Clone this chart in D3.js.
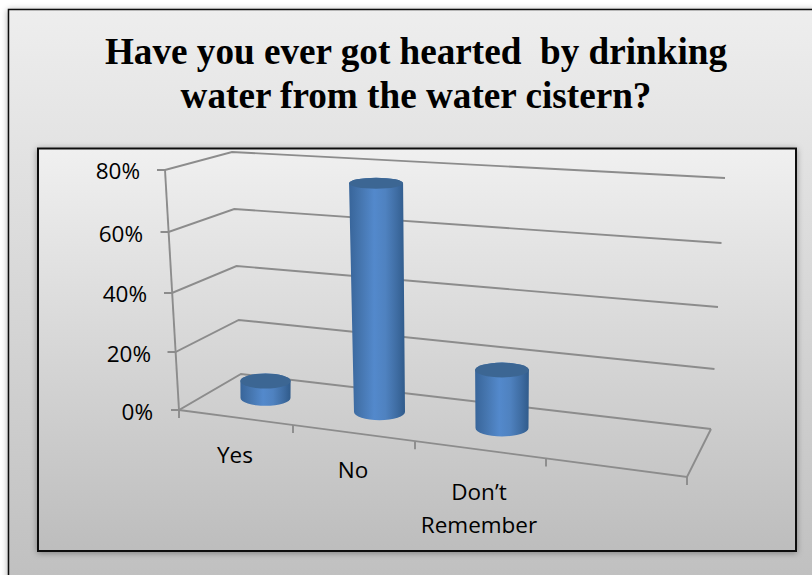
<!DOCTYPE html>
<html><head><meta charset="utf-8">
<script src="https://cdn.jsdelivr.net/npm/d3@7/dist/d3.min.js"></script>
<style>html,body{margin:0;padding:0;background:#fff;overflow:hidden}svg{display:block}</style>
</head><body><svg id="c" width="812" height="575"></svg>
<script>
const categories = ["Yes","No","Don’t\nRemember"];
const values = [5,75,20];
const yTicks = [0,20,40,60,80];
const titleLines = ["Have you ever got hearted  by drinking","water from the water cistern?"];

const W=812,H=575;
const svg=d3.select("#c");
const defs=svg.append("defs");
function vgrad(id,stops,h){const g=defs.append("linearGradient").attr("id",id).attr("x1",0).attr("x2",h?1:0).attr("y1",0).attr("y2",h?0:1);
 stops.forEach(s=>g.append("stop").attr("offset",s[0]).attr("stop-color",s[1]));}
vgrad("outer",[[0,"#eeeeee"],[1,"#bdbdbd"]]);
vgrad("inner",[[0,"#f0f0f0"],[1,"#bdbdbd"]]);
vgrad("body",[[0,"#38659a"],[.2,"#4575ae"],[.45,"#5389cc"],[.65,"#4f82c0"],[.85,"#3f6da3"],[1,"#305b8b"]],true);
const sh=defs.append("filter").attr("id","sh").attr("x","-5%").attr("y","-5%").attr("width","110%").attr("height","110%");
sh.append("feDropShadow").attr("dx",0).attr("dy",1).attr("stdDeviation",3).attr("flood-color","#000").attr("flood-opacity",.35);

// frames
svg.append("rect").attr("x",8.5).attr("y",9.5).attr("width",W+40).attr("height",H-9.5+40).attr("fill","url(#outer)").attr("stroke","#111").attr("stroke-width",1.5).attr("filter","url(#sh)");
svg.append("rect").attr("x",38).attr("y",148.5).attr("width",758).attr("height",402.5).attr("fill","url(#inner)").attr("stroke","#111").attr("stroke-width",2).attr("filter","url(#sh)");

// title
svg.append("g").selectAll("text").data(titleLines).join("text")
 .attr("x",416).attr("y",(d,i)=>64+i*43.5).attr("text-anchor","middle")
 .style("font","bold 37.2px 'Liberation Serif'").style("white-space","pre").attr("fill","#000").text(d=>d);

// perspective scales: each gridline runs front-left -> back-left -> back-right
const frontY=d3.scaleLinear().domain([0,20,40,60,80]).range([410,352,293,232,170]);
const frontX=d3.scaleLinear().domain([0,80]).range([179,165]);
const backLX=d3.scaleLinear().domain([0,80]).range([241,232]);
const backLY=d3.scaleLinear().domain([0,20,40,60,80]).range([374,320,266,209,152]);
const backRX=d3.scaleLinear().domain([0,80]).range([711,725]);
const backRY=d3.scaleLinear().domain([0,20,40,60,80]).range([429,369,307,243,178]);
const grey="#8c8c8c";
const line=d3.line();
const axis=svg.append("g").attr("fill","none").attr("stroke",grey).attr("stroke-width",1.9);
yTicks.forEach(v=>{
 axis.append("path").attr("d",line([[frontX(v)-8,frontY(v)],[frontX(v),frontY(v)],[backLX(v),backLY(v)],[backRX(v),backRY(v)]]));
});
axis.append("path").attr("d",line([[frontX(80),frontY(80)],[frontX(0),frontY(0)]]));
// floor front edge + right edge
const edgeX=d3.scaleLinear().domain([0,1,2,3,4]).range([179,293,415,546,687]);
const edgeY=d3.scaleLinear().domain([179,687]).range([410,477]);
axis.append("path").attr("d",line([[frontX(0),frontY(0)],[edgeX(4),edgeY(edgeX(4))],[backRX(0),backRY(0)]]));
d3.range(0,5).forEach(i=>{
 const x=edgeX(i),y=edgeY(x);
 axis.append("path").attr("d",line([[x,y],[x,y+8]]));
});

// y labels
const tickLabelX=d3.scaleLinear().domain([0,20,40,60,80]).range([153,151,147,143,140]);
const tickLabelY=d3.scaleLinear().domain([0,20,40,60,80]).range([420,362,302,242,179]);
svg.append("g").selectAll("text").data(yTicks).join("text")
 .attr("x",tickLabelX).attr("y",tickLabelY).attr("text-anchor","end")
 .style("font","22.5px 'Open Sans',sans-serif").attr("fill","#000").text(v=>v+"%");

// cylinders
const idx=categories.map((_,i)=>i);
const cx=d3.scaleLinear().domain(idx).range([265.5,379.5,502]);
const baseY=d3.scaleLinear().domain(idx).range([398,412,428]);
const pxPer=d3.scaleLinear().domain(idx).range([3.4,3.05,2.9]);
const radius=d3.scaleLinear().domain(idx).range([25,25.5,26.5]);
const lean=d3.scaleLinear().domain(idx).range([0,.015,0]);
const flare=0.0066;
const ryAt=d3.scaleLinear().domain([183,380,430]).range([5.5,7.5,8.5]);
const bars=svg.append("g").selectAll("g").data(values).join("g");
bars.append("path").attr("fill","url(#body)").attr("d",(v,i)=>{
 const h=v*pxPer(i),r=radius(i),x0=cx(i),y0=baseY(i),x1=x0-h*lean(i),y1=y0-h,rt=r+h*flare,rb=ryAt(y0),rtop=ryAt(y1);
 return `M${x1-rt},${y1}L${x0-r},${y0}A${r},${rb} 0 0 0 ${x0+r},${y0}L${x1+rt},${y1}A${rt},${rtop} 0 0 0 ${x1-rt},${y1}Z`;
});
bars.append("ellipse").attr("fill","#3c6693")
 .attr("cx",(v,i)=>cx(i)-v*pxPer(i)*lean(i)).attr("cy",(v,i)=>baseY(i)-v*pxPer(i))
 .attr("rx",(v,i)=>radius(i)+v*pxPer(i)*flare).attr("ry",(v,i)=>ryAt(baseY(i)-v*pxPer(i)));

// category labels
const labelX=d3.scaleLinear().domain(idx).range([235,353,479]);
const labelY=d3.scaleLinear().domain(idx).range([463,478,500]);
const lab=svg.append("g").selectAll("text").data(categories).join("text")
 .attr("text-anchor","middle").style("font","22.5px 'Open Sans',sans-serif").attr("fill","#000");
lab.each(function(d,i){
 d.split("\n").forEach((t,k)=>d3.select(this).append("tspan").attr("x",labelX(i)).attr("y",labelY(i)+k*33).text(t));
});
</script></body></html>
